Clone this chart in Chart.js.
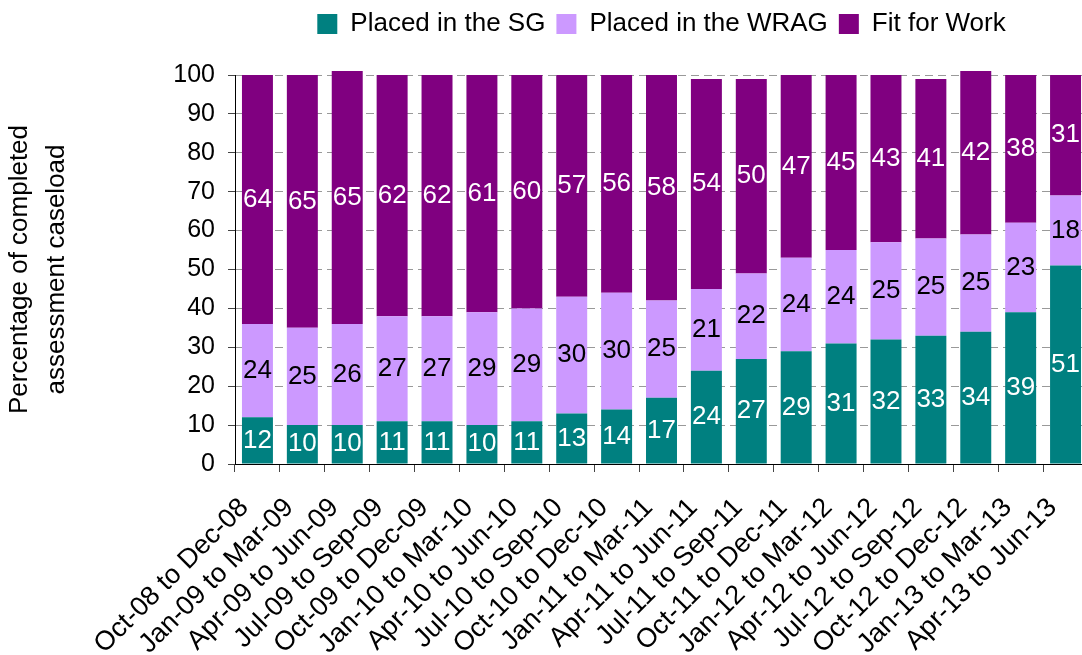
<!DOCTYPE html>
<html>
<head>
<meta charset="utf-8">
<script src="https://cdn.jsdelivr.net/npm/chart.js@4.4.1/dist/chart.umd.min.js"></script>
<style>
  html, body { margin: 0; background: #fff; overflow: hidden; }
  /* the original chart is cut off a few pixels on the right */
  #wrap { width: 1088px; height: 655px; position: relative; }
</style>
</head>
<body>
<div id="wrap"><canvas id="caseChart"></canvas></div>
<script>
const quarters = [
  "Oct-08 to Dec-08", "Jan-09 to Mar-09", "Apr-09 to Jun-09", "Jul-09 to Sep-09",
  "Oct-09 to Dec-09", "Jan-10 to Mar-10", "Apr-10 to Jun-10", "Jul-10 to Sep-10",
  "Oct-10 to Dec-10", "Jan-11 to Mar-11", "Apr-11 to Jun-11", "Jul-11 to Sep-11",
  "Oct-11 to Dec-11", "Jan-12 to Mar-12", "Apr-12 to Jun-12", "Jul-12 to Sep-12",
  "Oct-12 to Dec-12", "Jan-13 to Mar-13", "Apr-13 to Jun-13",
];
const placedSG = [12, 10, 10, 11, 11, 10, 11, 13, 14, 17, 24, 27, 29, 31, 32, 33, 34, 39, 51];
const placedWRAG = [24, 25, 26, 27, 27, 29, 29, 30, 30, 25, 21, 22, 24, 24, 25, 25, 25, 23, 18];
const fitForWork = [64, 65, 65, 62, 62, 61, 60, 57, 56, 58, 54, 50, 47, 45, 43, 41, 42, 38, 31];
const yTicks = [0, 10, 20, 30, 40, 50, 60, 70, 80, 90, 100];

const font = "'Liberation Sans', Arial, sans-serif";

// write the value in the middle of each segment
const segmentLabels = {
  id: "segmentLabels",
  afterDatasetsDraw(chart) {
    const ctx = chart.ctx;
    ctx.save();
    ctx.font = "26px " + font;
    ctx.textAlign = "center";
    ctx.textBaseline = "middle";
    chart.data.datasets.forEach((ds, i) => {
      const meta = chart.getDatasetMeta(i);
      meta.data.forEach((bar, j) => {
        ctx.fillStyle = ds.labelColor;
        ctx.fillText(ds.data[j], bar.x, (bar.y + bar.base) / 2);
      });
    });
    ctx.restore();
  },
};

// leave more room under the legend
const legendSpace = {
  id: "legendSpace",
  afterInit(chart) {
    const fit = chart.legend.fit;
    chart.legend.fit = function () {
      fit.call(this);
      this.height = 75;
    };
  },
};

const ctx = document.getElementById("caseChart").getContext("2d");
const caseChart = new Chart(ctx, {
  type: "bar",
  data: {
    labels: quarters,
    datasets: [
      {
        label: "Placed in the SG",
        data: placedSG,
        backgroundColor: "#008080",
        labelColor: "#ffffff",
      },
      {
        label: "Placed in the WRAG",
        data: placedWRAG,
        backgroundColor: "#CC99FF",
        labelColor: "#000000",
      },
      {
        label: "Fit for Work",
        data: fitForWork,
        backgroundColor: "#800080",
        labelColor: "#ffffff",
      },
    ],
  },
  options: {
    responsive: true,
    maintainAspectRatio: false,
    animation: false,
    datasets: {
      bar: {
        barPercentage: 1,
        categoryPercentage: 0.69,
        borderWidth: 0,
        clip: false,
      },
    },
    layout: {
      padding: 0,
    },
    scales: {
      x: {
        stacked: true,
        afterFit: function (scale) {
          scale.height = 191;
          scale.paddingLeft = 0;
          scale.paddingRight = 0;
        },
        grid: {
          offset: true,
          drawOnChartArea: false,
          drawTicks: true,
          tickLength: 8,
          tickColor: "#444",
        },
        border: { color: "#000", width: 1 },
        ticks: {
          color: "#000",
          font: { family: font, size: 27 },
          minRotation: 45,
          maxRotation: 45,
          autoSkip: false,
          padding: 20,
          labelOffset: -13,
        },
      },
      y: {
        stacked: true,
        min: 0,
        max: 100,
        afterFit: function (scale) {
          scale.width = 235;
        },
        afterBuildTicks: function (scale) {
          scale.ticks = yTicks.map((v) => ({ value: v }));
        },
        grid: {
          color: "#999",
          tickColor: "#444",
          tickLength: 7,
          tickBorderDash: [],
        },
        border: { color: "#000", width: 1, dash: [8, 5] },
        ticks: {
          color: "#000",
          font: { family: font, size: 25 },
          padding: 13,
        },
        title: {
          display: true,
          text: ["Percentage of completed", "assessment caseload"],
          color: "#000",
          font: { family: font, size: 26, lineHeight: 1.4 },
          padding: { top: 2, bottom: 0 },
        },
      },
    },
    plugins: {
      legend: {
        position: "top",
        fullSize: false,
        labels: {
          color: "#000",
          font: { family: font, size: 26 },
          boxWidth: 20,
          boxHeight: 20,
          padding: 11,
        },
      },
      tooltip: { enabled: false },
    },
  },
  plugins: [segmentLabels, legendSpace],
});
</script>
</body>
</html>
